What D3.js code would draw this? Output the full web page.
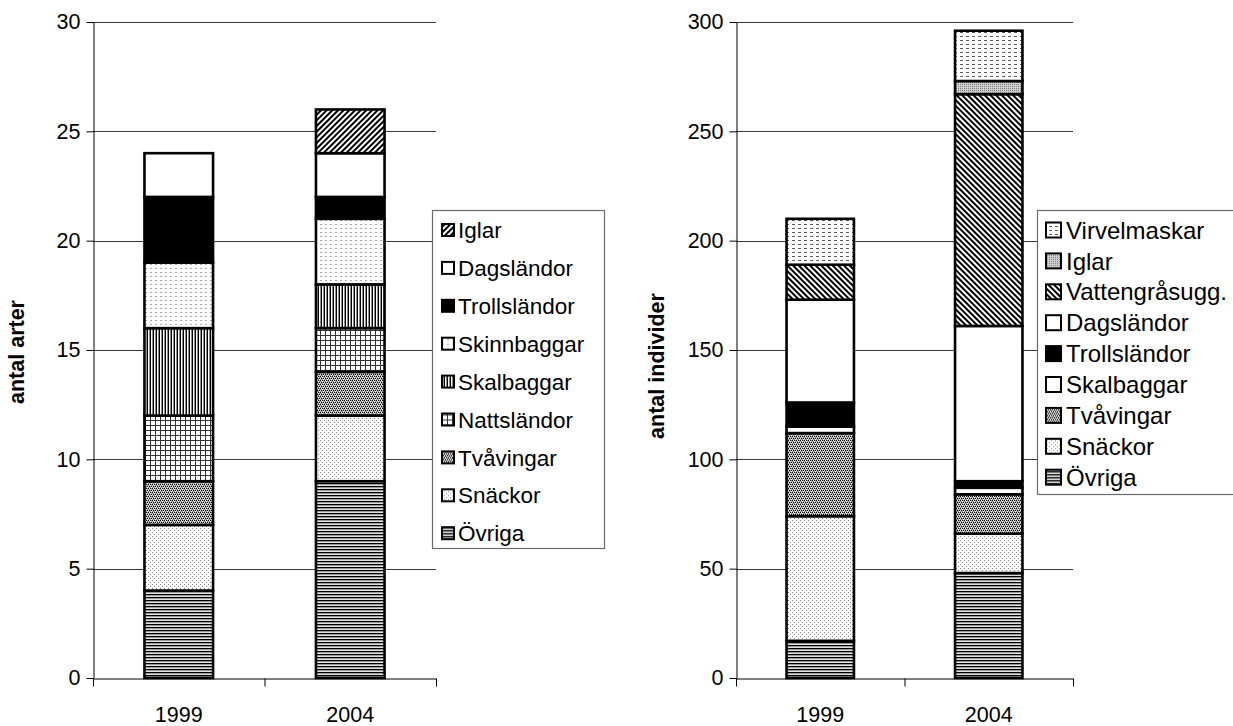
<!DOCTYPE html>
<html>
<head>
<meta charset="utf-8">
<script src="https://cdn.jsdelivr.net/npm/d3@7"></script>
<style>
  html, body { margin: 0; padding: 0; background: #fff; }
  svg { display: block; font-family: "Liberation Sans", Arial, sans-serif; }
</style>
</head>
<body>
<svg id="chart" width="1233" height="726"></svg>
<script>
// ---------- DATA ----------
const years = ["1999", "2004"];

const leftSeries = ["Övriga", "Snäckor", "Tvåvingar", "Nattsländor", "Skalbaggar", "Skinnbaggar", "Trollsländor", "Dagsländor", "Iglar"];
const left1999 = [4, 3, 2, 3, 4, 3, 3, 2, 0];
const left2004 = [9, 3, 2, 2, 2, 3, 1, 2, 2];
const leftTicks = [0, 5, 10, 15, 20, 25, 30];

const rightSeries = ["Övriga", "Snäckor", "Tvåvingar", "Skalbaggar", "Trollsländor", "Dagsländor", "Vattengråsugg.", "Iglar", "Virvelmaskar"];
const right1999 = [17, 57, 38, 3, 11, 47, 16, 0, 21];
const right2004 = [48, 18, 18, 3, 3, 71, 106, 6, 23];
const rightTicks = [0, 50, 100, 150, 200, 250, 300];

// pattern keys for each series (same order as the series arrays)
const leftPatterns = ["ovriga", "snackor", "tvavingar", "natt", "skalbL", "skinn", "troll", "dags", "iglarL"];
const rightPatterns = ["ovriga", "snackor", "tvavingar", "skalbR", "troll", "dags", "vatten", "iglarR", "virvel"];

// ---------- PATTERNS ----------
const svg = d3.select("#chart");
const defs = svg.append("defs");

const patternDefs = {
  ovriga:   {w: 4, h: 3, bg: "#fff", rects: [[0,0,4,1,"#000"],[0,1,4,1,"#9a9a9a"],[0,2,4,1,"#e0e0e0"]]},
  snackor:  {w: 4, h: 4, bg: "#fff", rects: [[0,0,1,1,"#8a8a8a"],[2,2,1,1,"#8a8a8a"]]},
  tvavingar:{w: 4, h: 4, bg: "#a0a0a0", rects: [[0,0,1,1,"#000"],[2,0,1,1,"#000"],[1,2,1,1,"#000"],[3,2,1,1,"#000"],[1,0,1,1,"#fff"],[3,3,1,1,"#fff"],[0,2,1,1,"#e8e8e8"],[2,1,1,1,"#fff"]]},
  natt:     {w: 5, h: 5, bg: "#fff", rects: [[0,0,5,1,"#333"],[0,0,1,5,"#333"]]},
  skalbL:   {w: 3, h: 3, bg: "#fff", rects: [[0,0,1,3,"#000"],[2,0,1,3,"#8c8c8c"]]},
  skinn:    {w: 5, h: 4, bg: "#fff", rects: [[0,0,2,1,"#a8a8a8"]]},
  troll:    {w: 4, h: 4, bg: "#000", rects: []},
  dags:     {w: 4, h: 4, bg: "#fff", rects: []},
  skalbR:   {w: 4, h: 4, bg: "#fff", rects: []},
  iglarL:   {w: 4, h: 4, bg: "#fff", rects: [[0,0,2,4,"#000"]], rot: 45},
  vatten:   {w: 4, h: 4, bg: "#fff", rects: [[0,0,2,4,"#000"]], rot: -45},
  iglarR:   {w: 2, h: 2, bg: "#d0d0d0", rects: [[0,0,1,1,"#7a7a7a"]]},
  virvel:   {w: 6, h: 4, bg: "#fff", rects: [[0,0,3,1,"#5a5a5a"]]}
};

Object.entries(patternDefs).forEach(([id, p]) => {
  const pat = defs.append("pattern")
    .attr("id", "p-" + id)
    .attr("patternUnits", "userSpaceOnUse")
    .attr("width", p.w).attr("height", p.h);
  if (p.rot) pat.attr("patternTransform", `rotate(${p.rot})`);
  pat.append("rect").attr("width", p.w).attr("height", p.h).attr("fill", p.bg);
  p.rects.forEach(r => pat.append("rect")
    .attr("x", r[0]).attr("y", r[1]).attr("width", r[2]).attr("height", r[3])
    .attr("fill", r[4]).attr("shape-rendering", "crispEdges"));
});

// ---------- CHART BUILDER ----------
function drawChart(cfg) {
  const g = svg.append("g");
  const y = d3.scaleLinear().domain([0, cfg.max]).range([cfg.y0, cfg.y1]);
  const xb = d3.scaleBand().domain(years).range([cfg.x0, cfg.x1])
    .paddingInner(0.6).paddingOuter(0.3);
  const xl = d3.scaleLinear().domain([0, years.length]).range([cfg.x0, cfg.x1]);

  // gridlines
  g.append("g").selectAll("line")
    .data(cfg.ticks.filter(t => t > 0))
    .join("line")
    .attr("x1", cfg.x0).attr("x2", cfg.x1)
    .attr("y1", d => Math.round(y(d)) + 0.5).attr("y2", d => Math.round(y(d)) + 0.5)
    .attr("stroke", "#3a3a3a").attr("stroke-width", 1);

  // stacked data
  const rows = years.map((yr, i) => {
    const o = {year: yr};
    cfg.series.forEach((s, k) => o[s] = cfg.values[i][k]);
    return o;
  });
  const stack = d3.stack().keys(cfg.series)(rows);

  const bars = g.append("g");
  stack.forEach((layer, k) => {
    bars.append("g").selectAll("rect")
      .data(layer.filter(d => d[1] - d[0] > 0))
      .join("rect")
      .attr("x", d => xb(d.data.year))
      .attr("width", xb.bandwidth())
      .attr("y", d => y(d[1]))
      .attr("height", d => y(d[0]) - y(d[1]))
      .attr("fill", `url(#p-${cfg.patterns[k]})`)
      .attr("stroke", "#000")
      .attr("stroke-width", 2.6);
  });

  // y axis
  const ya = g.append("g")
    .attr("transform", `translate(${cfg.x0 + 0.5},0)`)
    .call(d3.axisLeft(y).tickValues(cfg.ticks).tickSize(7).tickSizeOuter(0).tickPadding(6));
  ya.selectAll("text").attr("font-size", "21.5px").attr("fill", "#000")
    .attr("font-family", "'Liberation Sans', Arial, sans-serif");
  ya.selectAll("line, path").attr("stroke", "#000");

  // x axis (ticks at category boundaries)
  const xa = g.append("g")
    .attr("transform", `translate(0,${cfg.y0 + 0.5})`)
    .call(d3.axisBottom(xl).tickValues(d3.range(years.length + 1)).tickSize(8).tickSizeOuter(0).tickFormat(""));
  xa.selectAll("line, path").attr("stroke", "#000");

  const xc = g.append("g")
    .attr("transform", `translate(0,${cfg.y0})`)
    .call(d3.axisBottom(xb).tickSize(0).tickPadding(29));
  xc.select(".domain").remove();
  xc.selectAll("text").attr("font-size", "21.5px").attr("fill", "#000")
    .attr("font-family", "'Liberation Sans', Arial, sans-serif");

  // axis title
  g.append("text")
    .attr("transform", `translate(${cfg.titleX},${cfg.titleY}) rotate(-90)`)
    .attr("text-anchor", "middle")
    .attr("font-size", "21.5px").attr("font-weight", "bold")
    .text(cfg.title);

  // legend
  const L = cfg.legend;
  const lg = g.append("g");
  lg.append("rect")
    .attr("x", L.x + 0.5).attr("y", L.y + 0.5)
    .attr("width", L.w).attr("height", L.h)
    .attr("fill", "#fff").attr("stroke", "#6a6a6a").attr("stroke-width", 1.2);
  const order = cfg.series.map((s, k) => ({s, p: cfg.patterns[k]})).reverse();
  const items = lg.selectAll("g.item").data(order).join("g")
    .attr("class", "item")
    .attr("transform", (d, i) => `translate(${L.x},${L.first + i * L.step})`);
  items.append("rect")
    .attr("x", L.sx).attr("y", -L.ss / 2)
    .attr("width", L.ss).attr("height", L.ss)
    .attr("fill", d => `url(#p-${d.p})`)
    .attr("stroke", "#000").attr("stroke-width", 2);
  items.append("text")
    .attr("x", L.tx).attr("y", 0).attr("dy", "0.36em")
    .attr("font-size", L.fs + "px")
    .text(d => d.s);
}

drawChart({
  series: leftSeries, values: [left1999, left2004], patterns: leftPatterns,
  ticks: leftTicks, max: 30,
  x0: 93, x1: 436, y0: 678, y1: 22,
  title: "antal arter", titleX: 24, titleY: 352,
  legend: {x: 432, y: 210, w: 172, h: 338, first: 230, step: 37.9, sx: 10, ss: 12, tx: 26, fs: 22.5}
});

drawChart({
  series: rightSeries, values: [right1999, right2004], patterns: rightPatterns,
  ticks: rightTicks, max: 300,
  x0: 736, x1: 1073, y0: 678, y1: 22,
  title: "antal individer", titleX: 664, titleY: 366,
  legend: {x: 1037, y: 210, w: 200, h: 284, first: 230, step: 30.9, sx: 9, ss: 15, tx: 29, fs: 24}
});
</script>
</body>
</html>
